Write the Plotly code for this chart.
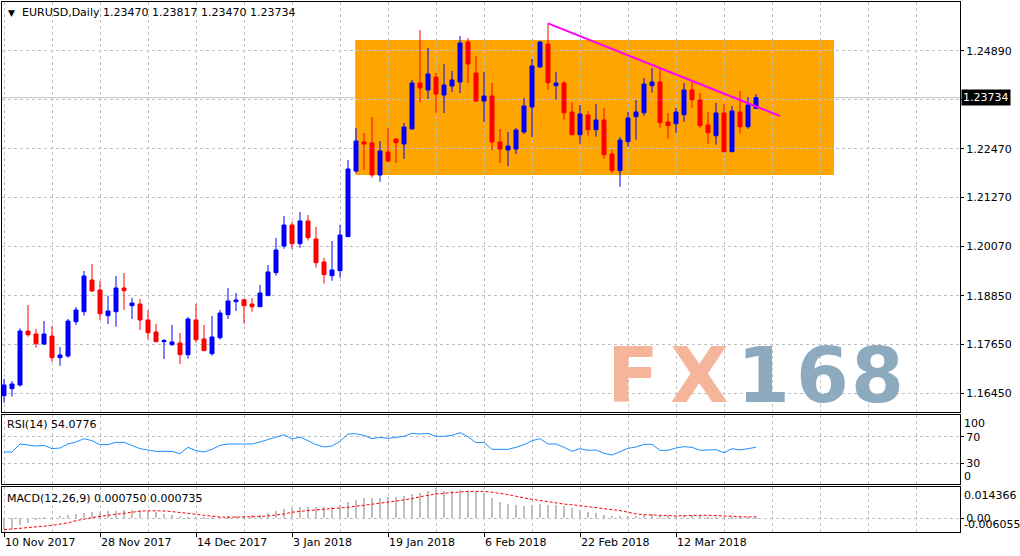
import pandas as pd
import plotly.graph_objects as go

# ---------------- data ----------------
missing_days = ["2017-12-25", "2018-01-01"]
dates = [d for d in pd.bdate_range("2017-11-10", "2018-03-26") if d.strftime("%Y-%m-%d") not in missing_days]
date_labels = [f"{d.day} {d:%b %Y}" for d in dates]

tick_labels = ["10 Nov 2017", "28 Nov 2017", "14 Dec 2017", "3 Jan 2018",
               "19 Jan 2018", "6 Feb 2018", "22 Feb 2018", "12 Mar 2018"]

opens = [1.16391, 1.16564, 1.16655, 1.17984, 1.17910, 1.17664, 1.17861, 1.17327, 1.17369, 1.18214,
         1.18460, 1.19241, 1.18995, 1.18362, 1.18460, 1.19044, 1.18608, 1.18649, 1.18256, 1.17960,
         1.17721, 1.17647, 1.17689, 1.17401, 1.18256, 1.17788, 1.17426, 1.17820, 1.18386, 1.18707,
         1.18756, 1.18649, 1.18583, 1.18855, 1.19421, 1.20079, 1.20596, 1.20136, 1.20695, 1.20251,
         1.19685, 1.19348, 1.19471, 1.20308, 1.21926, 1.22641, 1.22616, 1.21828, 1.22395, 1.22715,
         1.22592, 1.22961, 1.24094, 1.23922, 1.24242, 1.23798, 1.24020, 1.24119, 1.25104, 1.24341,
         1.23651, 1.23774, 1.22641, 1.22444, 1.22468, 1.22887, 1.23503, 1.24489, 1.25055, 1.24028,
         1.24094, 1.23380, 1.22820, 1.23306, 1.22944, 1.23183, 1.22345, 1.21934, 1.22648, 1.23265,
         1.23362, 1.24028, 1.24119, 1.23134, 1.23092, 1.23313, 1.23922, 1.23675, 1.23060, 1.22796,
         1.23355, 1.22402, 1.23380, 1.23018, 1.23470]
highs = [1.16803, 1.16753, 1.18051, 1.18625, 1.18034, 1.18231, 1.18108, 1.17591, 1.18280, 1.18576,
         1.19463, 1.19635, 1.19216, 1.18855, 1.19340, 1.19414, 1.18797, 1.18773, 1.18502, 1.18157,
         1.17788, 1.18133, 1.17935, 1.18330, 1.18649, 1.18133, 1.18354, 1.18502, 1.19044, 1.18921,
         1.18765, 1.18797, 1.19118, 1.19611, 1.20276, 1.20818, 1.20670, 1.20917, 1.20843, 1.20547,
         1.19783, 1.20202, 1.20596, 1.22197, 1.22985, 1.22862, 1.23257, 1.22665, 1.22985, 1.22739,
         1.23109, 1.24168, 1.25400, 1.24957, 1.24341, 1.24562, 1.24390, 1.25252, 1.25203, 1.24759,
         1.24366, 1.24094, 1.22961, 1.22887, 1.22985, 1.23724, 1.24685, 1.25129, 1.25565, 1.24366,
         1.24144, 1.23626, 1.23552, 1.23405, 1.23577, 1.23478, 1.22444, 1.22764, 1.23380, 1.23675,
         1.24217, 1.24464, 1.24464, 1.23355, 1.23478, 1.24094, 1.24144, 1.23848, 1.23380, 1.23601,
         1.23577, 1.23527, 1.23897, 1.23749, 1.23817]
lows = [1.16219, 1.16366, 1.16613, 1.17844, 1.17573, 1.17640, 1.17228, 1.17130, 1.17327, 1.18133,
        1.18362, 1.18953, 1.18256, 1.18157, 1.18091, 1.18502, 1.18280, 1.18009, 1.17780, 1.17715,
        1.17295, 1.17623, 1.17171, 1.17302, 1.17697, 1.17490, 1.17377, 1.17771, 1.18280, 1.18477,
        1.18165, 1.18460, 1.18575, 1.18845, 1.19348, 1.20012, 1.20005, 1.20037, 1.20210, 1.19545,
        1.19150, 1.19224, 1.19298, 1.20300, 1.21884, 1.21951, 1.21762, 1.21663, 1.22148, 1.22123,
        1.22222, 1.22950, 1.23626, 1.23700, 1.23355, 1.23355, 1.23873, 1.23848, 1.24094, 1.23626,
        1.23134, 1.22444, 1.22123, 1.22049, 1.22345, 1.22838, 1.22764, 1.24472, 1.23930, 1.23683,
        1.23190, 1.22810, 1.22599, 1.22796, 1.22772, 1.22229, 1.21884, 1.21540, 1.22526, 1.22697,
        1.23288, 1.23856, 1.22993, 1.22722, 1.22870, 1.23141, 1.23486, 1.22993, 1.22599, 1.22574,
        1.22395, 1.22395, 1.22845, 1.22969, 1.23470]
closes = [1.16655, 1.16679, 1.17984, 1.17893, 1.17672, 1.17910, 1.17327, 1.17394, 1.18231, 1.18502,
          1.19340, 1.18970, 1.18411, 1.18477, 1.19044, 1.18978, 1.18674, 1.18256, 1.17943, 1.17721,
          1.17746, 1.17714, 1.17401, 1.18280, 1.17771, 1.17500, 1.17837, 1.18428, 1.18724, 1.18748,
          1.18608, 1.18583, 1.18921, 1.19439, 1.19980, 1.20596, 1.20136, 1.20695, 1.20284, 1.19668,
          1.19373, 1.19488, 1.20350, 1.21976, 1.22665, 1.22592, 1.21828, 1.22419, 1.22173, 1.22624,
          1.23010, 1.24094, 1.23971, 1.24316, 1.23823, 1.24045, 1.24168, 1.25080, 1.24562, 1.23651,
          1.23774, 1.22641, 1.22468, 1.22542, 1.22936, 1.23527, 1.24513, 1.25104, 1.24101, 1.24094,
          1.23362, 1.22820, 1.23331, 1.22944, 1.23183, 1.22328, 1.21934, 1.22690, 1.23232, 1.23380,
          1.24070, 1.24119, 1.23116, 1.23043, 1.23380, 1.23922, 1.23683, 1.23043, 1.22870, 1.23355,
          1.22402, 1.23405, 1.23018, 1.23552, 1.23734]

rsi = [47, 47, 59, 58, 56, 57, 52, 53, 59, 62,
       67, 64, 58, 58, 61.5, 61.5, 57, 52, 50, 48,
       48, 48, 44.5, 54, 49, 47, 51, 57, 59, 59,
       58, 59, 62, 66, 70, 73, 66.5, 69.5, 64, 58,
       54.5, 56, 63, 74, 74.5, 72, 67, 69, 67.5, 69.5,
       70.5, 75, 74, 75, 70.5, 70.5, 72, 76, 70, 61,
       61.5, 51, 51, 51, 54, 58, 64, 67, 59, 59,
       54, 48, 52, 49.5, 50, 45, 42.5, 48, 52.5, 54.5,
       58.5, 58.5, 49.5, 49.5, 53, 55, 54, 49.5, 49.5, 50.5,
       46, 52, 50, 52, 54.0776]

macd_main = [-0.0052, -0.0050, -0.0030, -0.0020, -0.0004, 0.0004, 0.0008, 0.0010, 0.0014, 0.0018,
             0.0024, 0.0028, 0.0030, 0.0032, 0.0036, 0.0039, 0.0040, 0.0039, 0.0036, 0.0030,
             0.0022, 0.0016, 0.0010, 0.0008, 0.0006, 0.0004, 0.0004, 0.0006, 0.0009, 0.0011,
             0.0012, 0.0013, 0.0016, 0.0024, 0.0034, 0.0043, 0.0048, 0.0052, 0.0054, 0.0053,
             0.0052, 0.0053, 0.0060, 0.0075, 0.0086, 0.0092, 0.0094, 0.0096, 0.0097, 0.0100,
             0.0105, 0.0113, 0.0118, 0.0128, 0.0140, 0.0128, 0.0125, 0.0130, 0.0128, 0.0122,
             0.0118, 0.0094, 0.0076, 0.0066, 0.0060, 0.0058, 0.0062, 0.0068, 0.0064, 0.0062,
             0.0056, 0.0046, 0.0040, 0.0030, 0.0024, 0.0016, 0.0012, 0.0010, 0.0010, 0.0012,
             0.0016, 0.0018, 0.0015, 0.0012, 0.0012, 0.0014, 0.0014, 0.0011, 0.0008, 0.0008,
             0.0004, 0.0006, 0.0005, 0.0006, 0.000750]
macd_signal = [-0.0053, -0.0050, -0.0047, -0.0044, -0.0041, -0.0038, -0.0033, -0.0027, -0.0021, -0.0011,
               -0.0003, 0.0003, 0.0009, 0.0014, 0.0019, 0.0023, 0.0029, 0.0033, 0.0035, 0.0035,
               0.0034, 0.0031, 0.0028, 0.0023, 0.0019, 0.0014, 0.0009, 0.0006, 0.0005, 0.0005,
               0.0005, 0.0006, 0.0008, 0.0011, 0.0015, 0.0020, 0.0028, 0.0033, 0.0036, 0.0039,
               0.0042, 0.0043, 0.0046, 0.0051, 0.0056, 0.0060, 0.0065, 0.0070, 0.0075, 0.0080,
               0.0085, 0.0091, 0.0100, 0.0107, 0.0113, 0.0116, 0.0119, 0.0125, 0.0125, 0.0125,
               0.0125, 0.0121, 0.0116, 0.0110, 0.0102, 0.0094, 0.0088, 0.0083, 0.0077, 0.0072,
               0.0066, 0.0063, 0.0059, 0.0056, 0.0051, 0.0045, 0.0040, 0.0036, 0.0028, 0.0020,
               0.0017, 0.0015, 0.0012, 0.0011, 0.0011, 0.0012, 0.0014, 0.0014, 0.0014, 0.0012,
               0.0011, 0.0009, 0.0008, 0.0006, 0.000735]

price_ticks = [1.24890, 1.23680, 1.22470, 1.21270, 1.20070, 1.18850, 1.17650, 1.16450]
price_tick_text = ["1.24890", "", "1.22470", "1.21270", "1.20070", "1.18850", "1.17650", "1.16450"]

symbol, timeframe = "EURUSD", "Daily"
current_price = closes[-1]

# ---------------- figure ----------------
W, H = 1020, 556
ML, MR, MT, MB = 2, 60, 2, 24
PW, PH = W - ML - MR, H - MT - MB


def px(x):
    return (x - ML) / PW


def py(y):
    return (H - MB - y) / PH


x = list(range(len(dates)))
tick_pos = [date_labels.index(t) for t in tick_labels]

FONT = "DejaVu Sans"
GRID = "#c0c0c0"
DASH = "3px,3px"

fig = go.Figure()
fig.add_trace(go.Candlestick(
    x=x, open=opens, high=highs, low=lows, close=closes,
    xaxis="x", yaxis="y", whiskerwidth=0,
    increasing=dict(line=dict(color="#0000ff", width=1), fillcolor="#0000ff"),
    decreasing=dict(line=dict(color="#ff0000", width=1), fillcolor="#ff0000"),
    hoverinfo="skip"))
fig.add_trace(go.Scatter(x=x, y=rsi, mode="lines", xaxis="x2", yaxis="y2",
                         line=dict(color="#1e90ff", width=1), hoverinfo="skip"))
fig.add_trace(go.Bar(x=x, y=macd_main, xaxis="x3", yaxis="y3", width=0.14,
                     marker=dict(color="#c0c0c0", line=dict(width=0)), hoverinfo="skip"))
fig.add_trace(go.Scatter(x=x, y=macd_signal, mode="lines", xaxis="x3", yaxis="y3",
                         line=dict(color="#ff0000", width=1, dash="3px,2px"), hoverinfo="skip"))

xcommon = dict(range=[-0.25, 119.5], showline=True, linecolor="black", linewidth=1, mirror=True,
               showgrid=True, gridcolor=GRID, griddash=DASH, gridwidth=1, zeroline=False,
               tickmode="array", tickvals=tick_pos, ticktext=tick_labels, automargin=False,
               minor=dict(tick0=0, dtick=6, showgrid=True, gridcolor=GRID, griddash=DASH, gridwidth=1, ticks=""),
               fixedrange=True)
ycommon = dict(side="right", showline=True, linecolor="black", linewidth=1, mirror=True,
               showgrid=True, gridcolor=GRID, griddash=DASH, gridwidth=1, zeroline=False,
               ticks="outside", ticklen=3, tickcolor="black", tickmode="array", automargin=False,
               tickfont=dict(family=FONT, size=11, color="black"), fixedrange=True)

fig.update_layout(
    width=W, height=H, margin=dict(l=ML, r=MR, t=MT, b=MB, autoexpand=False),
    paper_bgcolor="white", plot_bgcolor="white", showlegend=False,
    font=dict(family=FONT, size=11, color="black"),
    boxgap=0.5, boxgroupgap=0, bargap=0,
    xaxis=dict(xcommon, anchor="y", showticklabels=False, ticks="", rangeslider=dict(visible=False)),
    xaxis2=dict(xcommon, anchor="y2", matches="x", showticklabels=False, ticks=""),
    xaxis3=dict(xcommon, anchor="y3", matches="x", ticks="outside", ticklen=4, tickcolor="black",
                ticklabelposition="outside right",
                tickfont=dict(family=FONT, size=11, color="black")),
    yaxis=dict(ycommon, domain=[py(412), 1.0], range=[1.15989, 1.26090],
               tickvals=price_ticks, ticktext=price_tick_text),
    yaxis2=dict(ycommon, domain=[py(484), py(415)], range=[-1.05, 102.55],
                tickvals=[70, 30], ticktext=["70", "30"]),
    yaxis3=dict(ycommon, domain=[0, py(487)], range=[-0.00636, 0.01452],
                tickvals=[0], ticktext=["0.00"]),
)

# orange consolidation box, bid line, trend line
fig.add_shape(type="rect", xref="x", yref="y", x0=43.9, x1=103.75, y0=1.21829, y1=1.25154,
              fillcolor="#ffa500", line=dict(width=0), layer="below")
fig.add_shape(type="line", xref="paper", yref="y", x0=0, x1=1, y0=current_price, y1=current_price,
              line=dict(color="#c0c0c0", width=1), layer="below")
fig.add_shape(type="line", xref="x", yref="y", x0=68, y0=1.25565, x1=97, y1=1.23282,
              line=dict(color="#ff00ff", width=2), layer="above")

ann = []
ann.append(dict(text="▼", x=px(6), y=py(12.5), xanchor="left", yanchor="middle",
                font=dict(family=FONT, size=9, color="black")))
ann.append(dict(text=f"{symbol},{timeframe} {opens[-1]:.5f} {highs[-1]:.5f} {lows[-1]:.5f} {closes[-1]:.5f}",
                x=px(20), y=py(13), xanchor="left", yanchor="middle",
                font=dict(family=FONT, size=11, color="black")))
ann.append(dict(text=f"RSI(14) {rsi[-1]:.4f}", x=px(5), y=py(425), xanchor="left", yanchor="middle",
                font=dict(family=FONT, size=11, color="black")))
ann.append(dict(text=f"MACD(12,26,9) {macd_main[-1]:.6f} {macd_signal[-1]:.6f}", x=px(5), y=py(498),
                xanchor="left", yanchor="middle", font=dict(family=FONT, size=11, color="black")))
# current price box
ann.append(dict(text=f"{current_price:.5f}", xref="paper", yref="y", x=1, y=current_price, xanchor="left",
                yanchor="middle", xshift=1, bgcolor="black", borderpad=1,
                font=dict(family=FONT, size=11, color="white")))
# indicator scale labels (scale max / min shown inside each panel)
scale_labels = [("100", 423.3), ("0", 476.5), ("0.014366", 495.7), ("-0.006055", 524.3)]
for txt, yy in scale_labels:
    ann.append(dict(text=f"<span>{txt}</span>", xref="paper", yref="paper", x=1, y=py(yy),
                    xanchor="left", yanchor="middle",
                    xshift=2, font=dict(family=FONT, size=11, color="black")))
# watermark, one glyph at a time to match the wide logo lettering
for ch, cx, col in [("F", 633, "#f5b59b"), ("X", 699, "#f5b59b"),
                    ("1", 763, "#8eaabf"), ("6", 822, "#8eaabf"), ("8", 877, "#8eaabf")]:
    ann.append(dict(text=f"<b>{ch}</b>", x=px(cx), y=py(375), xanchor="center", yanchor="middle",
                    font=dict(family=FONT, size=76, color=col)))
for a in ann:
    a.setdefault("xref", "paper")
    a.setdefault("yref", "paper")
    a["showarrow"] = False
fig.update_layout(annotations=ann)

fig.write_html("out.html", config={"displayModeBar": False},
               post_script="document.body.style.margin='0';document.body.style.overflow='hidden';")
